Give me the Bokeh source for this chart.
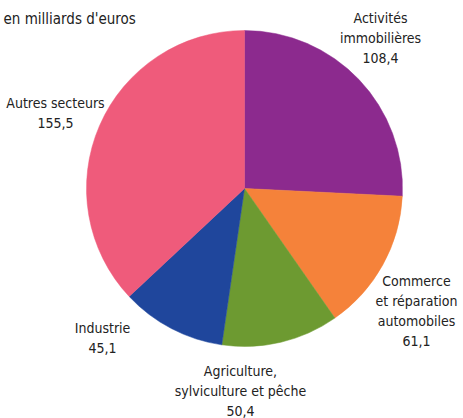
import math
from bokeh.plotting import figure
from bokeh.models import Range1d, ColumnDataSource
from bokeh.core.properties import value
from bokeh.embed import file_html
from bokeh.resources import INLINE

# ---- data ----
sectors = ["Activités\nimmobilières", "Commerce\net réparation\nautomobiles",
           "Agriculture,\nsylviculture et pêche", "Industrie", "Autres secteurs"]
amounts = [108.4, 61.1, 50.4, 45.1, 155.5]
colors = ["#8C2A8E", "#F5823A", "#6D9A31", "#1F469C", "#EF5B7B"]
unit_title = "en milliards d'euros"

# ---- layout (image pixel coords) ----
W, H = 463, 418
FONT = "DejaVu Sans Condensed, Roboto, sans-serif"
cx_img, cy_img, radius = 244, 188, 158
label_pos = [(380, 9), (416, 272), (240, 362), (102, 319), (55, 94)]

def X(x):
    return x
def Y(y):
    return H - y

total = sum(amounts)
starts, ends = [], []
acc = 0.0
for a in amounts:
    starts.append(math.pi / 2 - 2 * math.pi * acc / total)
    acc += a
    ends.append(math.pi / 2 - 2 * math.pi * acc / total)

p = figure(width=W, height=H, output_backend="svg", toolbar_location=None,
           x_range=Range1d(0, W), y_range=Range1d(0, H), min_border=0)
p.axis.visible = False
p.grid.visible = False
p.outline_line_color = None
p.background_fill_color = "white"

src = ColumnDataSource(dict(
    x=[X(cx_img)] * len(amounts), y=[Y(cy_img)] * len(amounts),
    start=starts, end=ends, color=colors))
p.wedge(x="x", y="y", radius=radius, start_angle="start", end_angle="end",
        direction="clock", fill_color="color", line_color="color",
        line_width=0.5, source=src)

texts = [s + "\n" + f"{a:.1f}".replace(".", ",") for s, a in zip(sectors, amounts)]
lsrc = ColumnDataSource(dict(
    x=[X(px) for px, _ in label_pos], y=[Y(py) for _, py in label_pos], text=texts))
p.text(x="x", y="y", text="text", source=lsrc, text_align="center",
       text_baseline="top", text_font=value(FONT), text_font_size="14px",
       text_color="#222222", text_line_height=1.25)

p.text(x=[X(3)], y=[Y(9)], text=[unit_title], text_align="left",
       text_baseline="top", text_font=value(FONT), text_font_size="15px",
       text_color="#222222")

open("out.html", "w").write(file_html(p, INLINE))
